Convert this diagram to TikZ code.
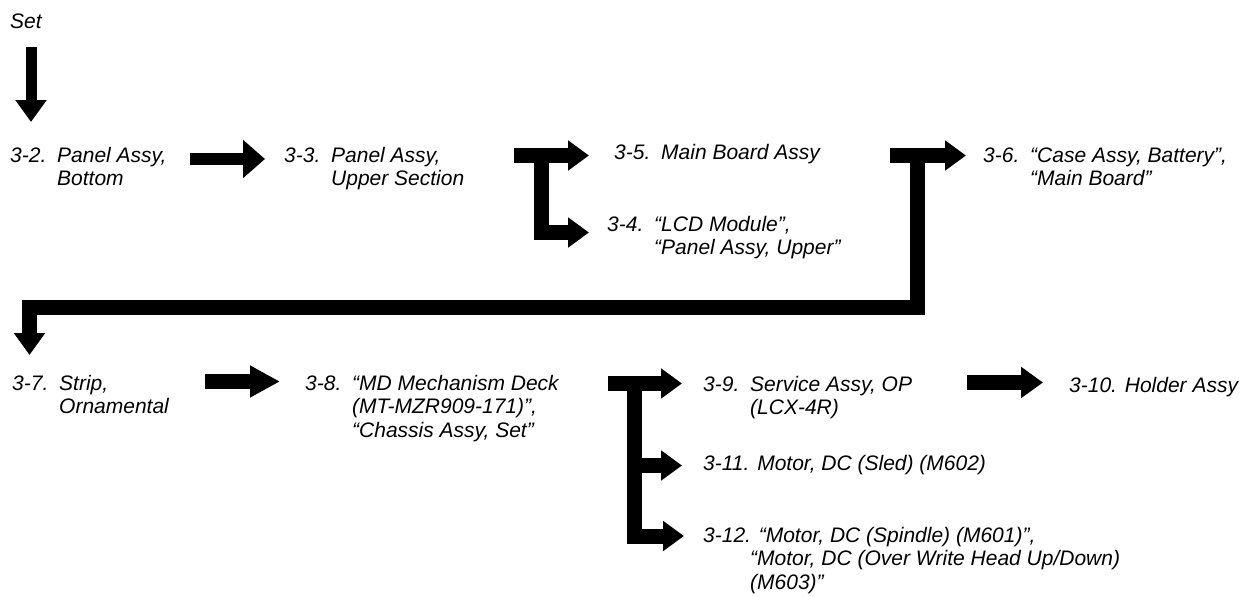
\documentclass[tikz,border=0pt]{standalone}
\usepackage{fontspec}
\setmainfont{Liberation Sans}
\usetikzlibrary{arrows.meta}
\newcommand{\itemlbl}[3]{\makebox[#1][l]{#2}\begin{tabular}[t]{@{}l@{}}#3\end{tabular}}
\begin{document}
\begin{tikzpicture}[x=1pt,y=-1pt,
  lbl/.style={anchor=base west, inner sep=0pt, font=\fontsize{21}{23.5}\selectfont\itshape},
  blk/.style={draw=black, line width=15pt, line join=miter},
  tipA/.style={-{Triangle[length=22pt,width=30pt]}},
  tipB/.style={-{Triangle[length=21pt,width=29pt]}},
  tipC/.style={-{Triangle[length=30pt,width=30pt]}}]
\useasboundingbox (0,0) rectangle (1243,597);

% labels
\node[lbl] (set) at (10,28) {Set};
\node[lbl] (n32) at (10,162) {\itemlbl{47pt}{3-2.}{Panel Assy,\\Bottom}};
\node[lbl] (n33) at (284,162) {\itemlbl{47pt}{3-3.}{Panel Assy,\\Upper Section}};
\node[lbl] (n35) at (614,159) {\itemlbl{47pt}{3-5.}{Main Board Assy}};
\node[lbl] (n34) at (607,231) {\itemlbl{47pt}{3-4.}{“LCD Module”,\\“Panel Assy, Upper”}};
\node[lbl] (n36) at (983,162) {\itemlbl{47pt}{3-6.}{“Case Assy, Battery”,\\“Main Board”}};
\node[lbl] (n37) at (12,390) {\itemlbl{47pt}{3-7.}{Strip,\\Ornamental}};
\node[lbl] (n38) at (305,390) {\itemlbl{47pt}{3-8.}{“MD Mechanism Deck\\(MT-MZR909-171)”,\\“Chassis Assy, Set”}};
\node[lbl] (n39) at (703,391) {\itemlbl{47pt}{3-9.}{Service Assy, OP\\(LCX-4R)}};
\node[lbl] (n310) at (1069,392) {3-10. Holder Assy};
\node[lbl] (n311) at (703,470) {3-11. Motor, DC (Sled) (M602)};
\node[lbl] (n312) at (703,542) {\begin{tabular}[t]{@{}l@{}}3-12. “Motor, DC (Spindle) (M601)”,\\\hspace*{47pt}“Motor, DC (Over Write Head Up/Down)\\\hspace*{47pt}(M603)”\end{tabular}};

% connector points
\coordinate (a0s) at (31,47);    \coordinate (a0e) at (31,122);
\coordinate (a1s) at (190,159);  \coordinate (a1e) at (265,159);
\coordinate (b0s) at (514,155.5);\coordinate (b0e) at (589,155.5);
\coordinate (b1s) at (541,155.5);\coordinate (b1m) at (541,232.5);\coordinate (b1e) at (589,232.5);
\coordinate (c0s) at (890,155.5);\coordinate (c0e) at (966,155.5);
\coordinate (c1s) at (917.5,155.5);\coordinate (c1a) at (917.5,307.5);
\coordinate (c1b) at (29.5,307.5);\coordinate (c1e) at (29.5,355);
\coordinate (d0s) at (205,381.5);\coordinate (d0e) at (280,381.5);
\coordinate (e0s) at (608,383.5);\coordinate (e0e) at (682,383.5);
\coordinate (e1s) at (634,383.5);\coordinate (e1m) at (634,536);\coordinate (e1e) at (684,536);
\coordinate (e2s) at (634,465.5);\coordinate (e2e) at (682,465.5);
\coordinate (f0s) at (967,382.5);\coordinate (f0e) at (1043,382.5);

% block arrows
\draw[blk, line width=11pt, tipA] (a0s) -- (a0e);
\draw[blk, line width=12pt, -{Triangle[length=22pt,width=37pt]}] (a1s) -- (a1e);
\draw[blk, tipB] (b0s) -- (b0e);
\draw[blk, tipB] (b1s) -- (b1m) -- (b1e);
\draw[blk, tipB] (c0s) -- (c0e);
\draw[blk, tipA] (c1s) -- (c1a) -- (c1b) -- (c1e);
\draw[blk, tipC] (d0s) -- (d0e);
\draw[blk, tipB] (e0s) -- (e0e);
\draw[blk, tipB] (e1s) -- (e1m) -- (e1e);
\draw[blk, tipB] (e2s) -- (e2e);
\draw[blk, tipA] (f0s) -- (f0e);
\end{tikzpicture}
\end{document}
